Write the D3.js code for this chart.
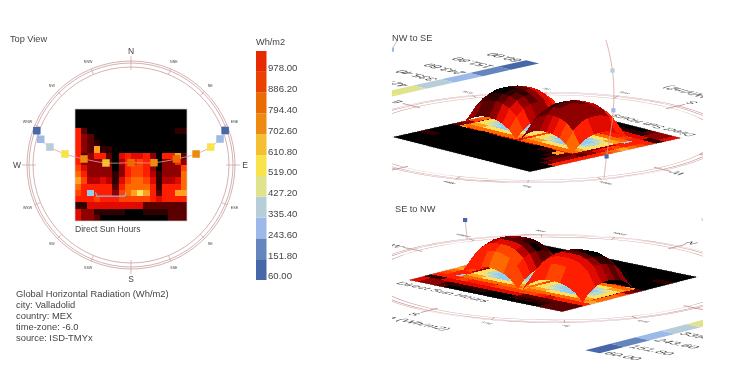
<!DOCTYPE html>
<html>
<head>
<meta charset="utf-8">
<script src="https://cdn.jsdelivr.net/npm/d3@7"></script>
<style>
  html, body { margin: 0; padding: 0; background: #fff; }
  svg { display: block; filter: blur(0.45px); }
  text { font-family: "Liberation Sans", Arial, sans-serif; fill: #444; }
  .cell { shape-rendering: crispEdges; }
</style>
</head>
<body>
<svg id="chart"></svg>
<script>
// ============================================================
// Data
// ============================================================
let legendTicks = [60, 151.8, 243.6, 335.4, 427.2, 519, 610.8, 702.6, 794.4, 886.2, 978];
let legendColors = ['#4768a8', '#6486bd', '#9db9ea', '#b7cdd9', '#dfe38e', '#f8e34a',
                    '#f4bf30', '#ee8a10', '#ea6b00', '#ea4000', '#e82a00'];
let heatColors = ['#000000', '#300000', '#5a0000', '#8f0000', '#b80000', '#e00a00', '#ff1e00',
                  '#ff4400', '#ff6a00', '#ffa020', '#ffe060', '#dfe38e', '#b7d8d0', '#93cdf0'];
let infoLines = ['Global Horizontal Radiation (Wh/m2)', 'city: Valladolid', 'country: MEX',
                 'time-zone: -6.0', 'source: ISD-TMYx'];
let mainDirections = ['N', 'E', 'S', 'W'];
let minorDirections = ['NNE', 'NE', 'ENE', 'ESE', 'SE', 'SSE', 'SSW', 'SW', 'WSW', 'WNW', 'NW', 'NNW'];

// direct sun hours on the ground grid, rows north to south
let sunHours = [
  [0,0,0,0,0,0,0,0,0,0,0,0,0,0,0,0,0,0],
  [0,0,0,0,0,0,0,0,0,0,0,0,0,0,0,0,0,0],
  [0,0,0,0,0,0,0,0,0,0,0,0,0,0,0,0,0,0],
  [6,2,0,0,0,0,0,0,0,0,0,0,0,0,0,0,1,1],
  [6,3,2,0,0,0,0,0,0,0,0,0,0,0,0,0,0,0],
  [6,3,2,1,0,0,0,0,0,0,0,0,0,0,0,0,0,0],
  [6,3,2,9,1,1,0,0,0,0,0,0,0,0,0,0,0,0],
  [6,2,3,6,6,2,0,5,6,5,5,6,3,0,6,6,9,2],
  [6,3,3,3,3,2,0,4,6,6,7,6,3,0,3,3,6,3],
  [7,5,3,3,3,3,0,3,6,7,7,6,3,0,3,3,3,7],
  [8,6,3,3,3,3,1,3,6,7,7,6,4,1,3,3,3,8],
  [9,7,4,4,5,4,1,5,7,8,8,7,5,1,4,4,5,8],
  [8,6,6,6,6,6,2,6,8,8,8,8,6,1,6,6,6,8],
  [7,6,13,6,6,6,3,7,8,9,10,9,6,2,6,6,9,9],
  [6,6,6,7,6,6,6,7,7,7,7,7,6,5,6,6,6,6],
  [1,1,5,5,5,5,5,5,5,5,5,2,2,2,2,2,2,2],
  [5,3,3,1,1,1,1,1,0,0,0,1,1,1,1,2,2,2],
  [5,3,3,2,0,0,0,0,0,0,0,0,0,0,0,2,2,2]
];
// thin light edge of the west vault seen from above, in grid cells
let edgeCol = [3.3, 3.5, 8, 8.2];
let edgeRow = [13.4, 14, 14, 13.4];

// heights of the two vaults (share of the rise), west to east and north to south
let vaultHeights = [
  [0, .2, .32, .38, .4, .38, .32, .2, 0],
  [.2, .52, .68, .76, .78, .76, .68, .52, .2],
  [.32, .68, .85, .92, .93, .92, .85, .68, .32],
  [.38, .76, .92, .98, .99, .98, .92, .76, .38],
  [.4, .78, .93, .99, 1, .99, .93, .78, .4],
  [.38, .76, .92, .98, .99, .98, .92, .76, .38],
  [.32, .68, .85, .92, .93, .92, .85, .68, .32],
  [.2, .52, .68, .76, .78, .76, .68, .52, .2],
  [0, .2, .32, .38, .4, .38, .32, .2, 0]
];
let westVault = [
  [8,7,6,5,4,3,3,3],
  [6,3,3,3,3,2,2,3],
  [6,3,3,3,2,1,1,2],
  [5,3,3,3,2,1,0,2],
  [5,3,3,2,2,2,2,3],
  [5,3,4,5,5,5,4,5],
  [6,6,6,6,7,7,7,6],
  [6,6,6,7,8,8,7,7]
];
let eastVault = [
  [7,6,5,3,2,2,3,4],
  [6,5,3,2,1,1,2,3],
  [4,3,2,1,0,0,1,2],
  [3,2,1,1,0,0,1,3],
  [3,3,3,2,2,2,3,4],
  [5,5,5,5,5,5,5,5],
  [6,6,6,6,6,6,6,6],
  [6,6,6,7,7,6,6,6]
];
let vaultFloor = [
  [8,8,8,8,8,8,8,8],
  [9,9,10,10,10,10,9,9],
  [10,11,12,13,13,12,11,10],
  [10,12,13,13,13,13,12,10],
  [10,12,13,13,13,13,12,10],
  [10,11,12,13,13,12,11,10],
  [9,9,10,10,10,10,9,9],
  [8,8,8,8,8,8,8,8]
];

// sun path, west to east
let sunAzimuth = [290, 285.9, 282.5, 279.5, 277.3, 274.7, 0, 84.3, 82.5, 80.4, 77.3, 73.7, 69.9];
let sunAltitude = [7, 21.6, 34.7, 48.5, 62, 75.6, 88.7, 76.8, 63, 49.2, 36, 23.3, 7];
let sunValues = [70, 250, 340, 560, 720, 680, 870, 720, 820, 790, 560, 270, 80];

// ============================================================
// Layout and scales
// ============================================================
let svgWidth = 730;
let svgHeight = 371;
let cx = 131;
let cy = 165;
let skyRadius = 101;
let skyLift = 1.7;
let vaultRise = 38;

let plateX = d3.scaleLinear().domain([0, 18]).range([75, 187]);
let plateY = d3.scaleLinear().domain([0, 18]).range([109, 221]);
let westU = d3.scaleLinear().domain([0, 8]).range([90, 133]);
let eastU = d3.scaleLinear().domain([0, 8]).range([136, 180]);
let vaultV = d3.scaleLinear().domain([0, 8]).range([154, 196]);
let legendY = d3.scaleBand().domain(d3.range(legendColors.length).reverse()).range([51, 280]);
let legendTickY = d3.scaleLinear().domain([60, 978]).range([276, 68]);
let sunColor = d3.scaleThreshold().domain(legendTicks.slice(1)).range(legendColors);

// plan pixels of the top view to screen pixels of a tilted view
function makeView(ox, oy, ux, uy, vx, vy) {
  let a = ux / 112, b = uy / 112, c = vx / 112, d = vy / 112;
  let e = ox - a * 75 - c * 109;
  let f = oy - b * 75 - d * 109;
  return {a, b, c, d, e, f,
    matrix: `matrix(${a},${b},${c},${d},${e},${f})`,
    point: (x, y, z) => [a * x + c * y + e, b * x + d * y + f - z]};
}
let nwView = makeView(530, 172, -138, -35, 152, -34);
let seView = makeView(544, 245, 154, 32, -136, 35);

function sunPoint(az, alt) {
  let r = skyRadius * Math.cos(alt * Math.PI / 180);
  return {
    x: cx + r * Math.sin(az * Math.PI / 180),
    y: cy - r * Math.cos(az * Math.PI / 180),
    z: skyLift * skyRadius * Math.sin(alt * Math.PI / 180)
  };
}

let svg = d3.select('#chart').attr('width', svgWidth).attr('height', svgHeight);

// ============================================================
// Flat drawing, used straight for the top view and tilted for the others
// ============================================================
function drawPlan(g) {
  [104, 102, 98].forEach(r => {
    g.append('circle').attr('cx', cx).attr('cy', cy).attr('r', r)
      .attr('fill', 'none').attr('stroke', '#c48f8f').attr('stroke-width', 0.7);
  });
  d3.range(16).forEach(i => {
    let t = i * Math.PI / 8;
    let inner = i % 4 == 0 ? 95 : 98;
    let outer = i % 4 == 0 ? 109 : 104;
    g.append('line')
      .attr('x1', cx + inner * Math.sin(t)).attr('y1', cy - inner * Math.cos(t))
      .attr('x2', cx + outer * Math.sin(t)).attr('y2', cy - outer * Math.cos(t))
      .attr('stroke', '#c48f8f').attr('stroke-width', 0.6);
  });
  mainDirections.forEach((d, i) => {
    let t = i * Math.PI / 2;
    g.append('text').text(d)
      .attr('x', cx + 114 * Math.sin(t)).attr('y', cy - 114 * Math.cos(t) + 3)
      .attr('text-anchor', 'middle').style('font-size', '8.5px');
  });
  let minorAngles = d3.range(16).filter(i => i % 4 != 0);
  minorDirections.forEach((d, i) => {
    let t = minorAngles[i] * Math.PI / 8;
    g.append('text').text(d)
      .attr('x', cx + 112 * Math.sin(t)).attr('y', cy - 112 * Math.cos(t) + 1)
      .attr('text-anchor', 'middle').style('font-size', '3.6px');
  });

  sunHours.forEach((row, r) => {
    g.selectAll(null).data(row).enter().append('rect')
      .attr('class', 'cell')
      .attr('x', (d, c) => plateX(c))
      .attr('y', plateY(r))
      .attr('width', plateX(1) - plateX(0))
      .attr('height', plateY(1) - plateY(0))
      .attr('fill', d => heatColors[d]);
  });
  g.append('rect').attr('x', plateX(0)).attr('y', plateY(0))
    .attr('width', plateX(18) - plateX(0)).attr('height', plateY(18) - plateY(0))
    .attr('fill', 'none').attr('stroke', '#cfcfcf').attr('stroke-width', 0.7);

  g.append('text').text('Direct Sun Hours').attr('x', 75).attr('y', 232).style('font-size', '8.6px');

  // legend
  g.selectAll(null).data(legendColors).enter().append('rect')
    .attr('x', 256).attr('width', 10.5)
    .attr('y', (d, i) => legendY(i)).attr('height', legendY.bandwidth())
    .attr('fill', d => d);
  g.append('text').text('Wh/m2').attr('x', 256).attr('y', 45).style('font-size', '9.2px');
  g.selectAll(null).data(legendTicks).enter().append('text')
    .text(d => d.toFixed(2))
    .attr('x', 268).attr('y', d => legendTickY(d) + 3.4).style('font-size', '9.6px');

  // info block
  g.selectAll(null).data(infoLines).enter().append('text')
    .text(d => d)
    .attr('x', 16).attr('y', (d, i) => 297 + i * 11).style('font-size', '9.4px');
}

function drawSun(g, project, size) {
  let pts = sunAzimuth.map((az, i) => sunPoint(az, sunAltitude[i]));
  let horizon = [sunPoint(291, 0)].concat(pts, [sunPoint(69, 0)]);
  g.append('path')
    .attr('d', d3.line().x(p => project(p)[0]).y(p => project(p)[1]).curve(d3.curveCatmullRom)(horizon))
    .attr('fill', 'none').attr('stroke', '#d9a3a3').attr('stroke-width', 0.8);
  g.selectAll(null).data(pts).enter().append('rect')
    .attr('x', p => project(p)[0] - size / 2)
    .attr('y', p => project(p)[1] - size / 2)
    .attr('width', size).attr('height', size)
    .attr('fill', (p, i) => sunColor(sunValues[i]));
}

// ============================================================
// Vaults, painted back to front
// ============================================================
function drawVaults(g, view, farFirst) {
  let quads = [];
  [[westU, westVault], [eastU, eastVault]].forEach(([xScale, levels]) => {
    d3.range(8).forEach(j => d3.range(8).forEach(i => {
      let corner = (a, b, h) => view.point(xScale(a), vaultV(b), h);
      quads.push({
        fill: heatColors[vaultFloor[j][i]],
        depth: -1e6,
        pts: [corner(i, j, 0), corner(i + 1, j, 0), corner(i + 1, j + 1, 0), corner(i, j + 1, 0)]
      });
      let up = (a, b) => corner(a, b, vaultHeights[b][a] * vaultRise);
      let pts = [up(i, j), up(i + 1, j), up(i + 1, j + 1), up(i, j + 1)];
      quads.push({
        // the polygon turns the other way on screen when its upper side faces the viewer
        fill: d3.polygonArea(pts) < 0 ? heatColors[levels[j][i]] : heatColors[13],
        depth: farFirst * (xScale(i + 0.5) + vaultV(j + 0.5)),
        pts: pts
      });
    }));
  });
  quads.sort((p, q) => p.depth - q.depth);
  g.selectAll(null).data(quads).enter().append('polygon')
    .attr('class', 'cell')
    .attr('points', d => d.pts.join(' '))
    .attr('fill', d => d.fill);
}

// ============================================================
// Panels
// ============================================================
function drawTitle(text, x, y) {
  svg.append('text').text(text).attr('x', x).attr('y', y).style('font-size', '9.2px');
}

let topView = svg.append('g').attr('class', 'topView');
drawPlan(topView);
topView.append('path')
  .attr('d', d3.line().x(c => plateX(c)).y((c, i) => plateY(edgeRow[i]))(edgeCol))
  .attr('fill', 'none').attr('stroke', '#8fb4e6').attr('stroke-width', 1.1);
drawSun(topView, p => [p.x, p.y], 7.5);
drawTitle('Top View', 10, 42);

function drawTilted(name, view, farFirst, clipX, clipY, clipW, clipH) {
  svg.append('clipPath').attr('id', name)
    .append('rect').attr('x', clipX).attr('y', clipY).attr('width', clipW).attr('height', clipH);
  let panel = svg.append('g').attr('clip-path', `url(#${name})`);
  let plan = panel.append('g').attr('transform', view.matrix);
  drawPlan(plan);
  // labels that fall wholly outside the panel never show
  plan.selectAll('text').each(function() {
    let box = this.getBoundingClientRect();
    if (box.right < clipX || box.left > clipX + clipW || box.bottom < clipY || box.top > clipY + clipH) {
      d3.select(this).remove();
    }
  });
  drawVaults(panel.append('g'), view, farFirst);
  drawSun(panel.append('g'), p => view.point(p.x, p.y, p.z), 4.2);
}

drawTilted('clipNw', nwView, -1, 392, 40, 311, 150);
drawTilted('clipSe', seView, 1, 392, 218, 311, 142);
drawTitle('NW to SE', 392, 41);
drawTitle('SE to NW', 395, 212);
</script>
</body>
</html>
